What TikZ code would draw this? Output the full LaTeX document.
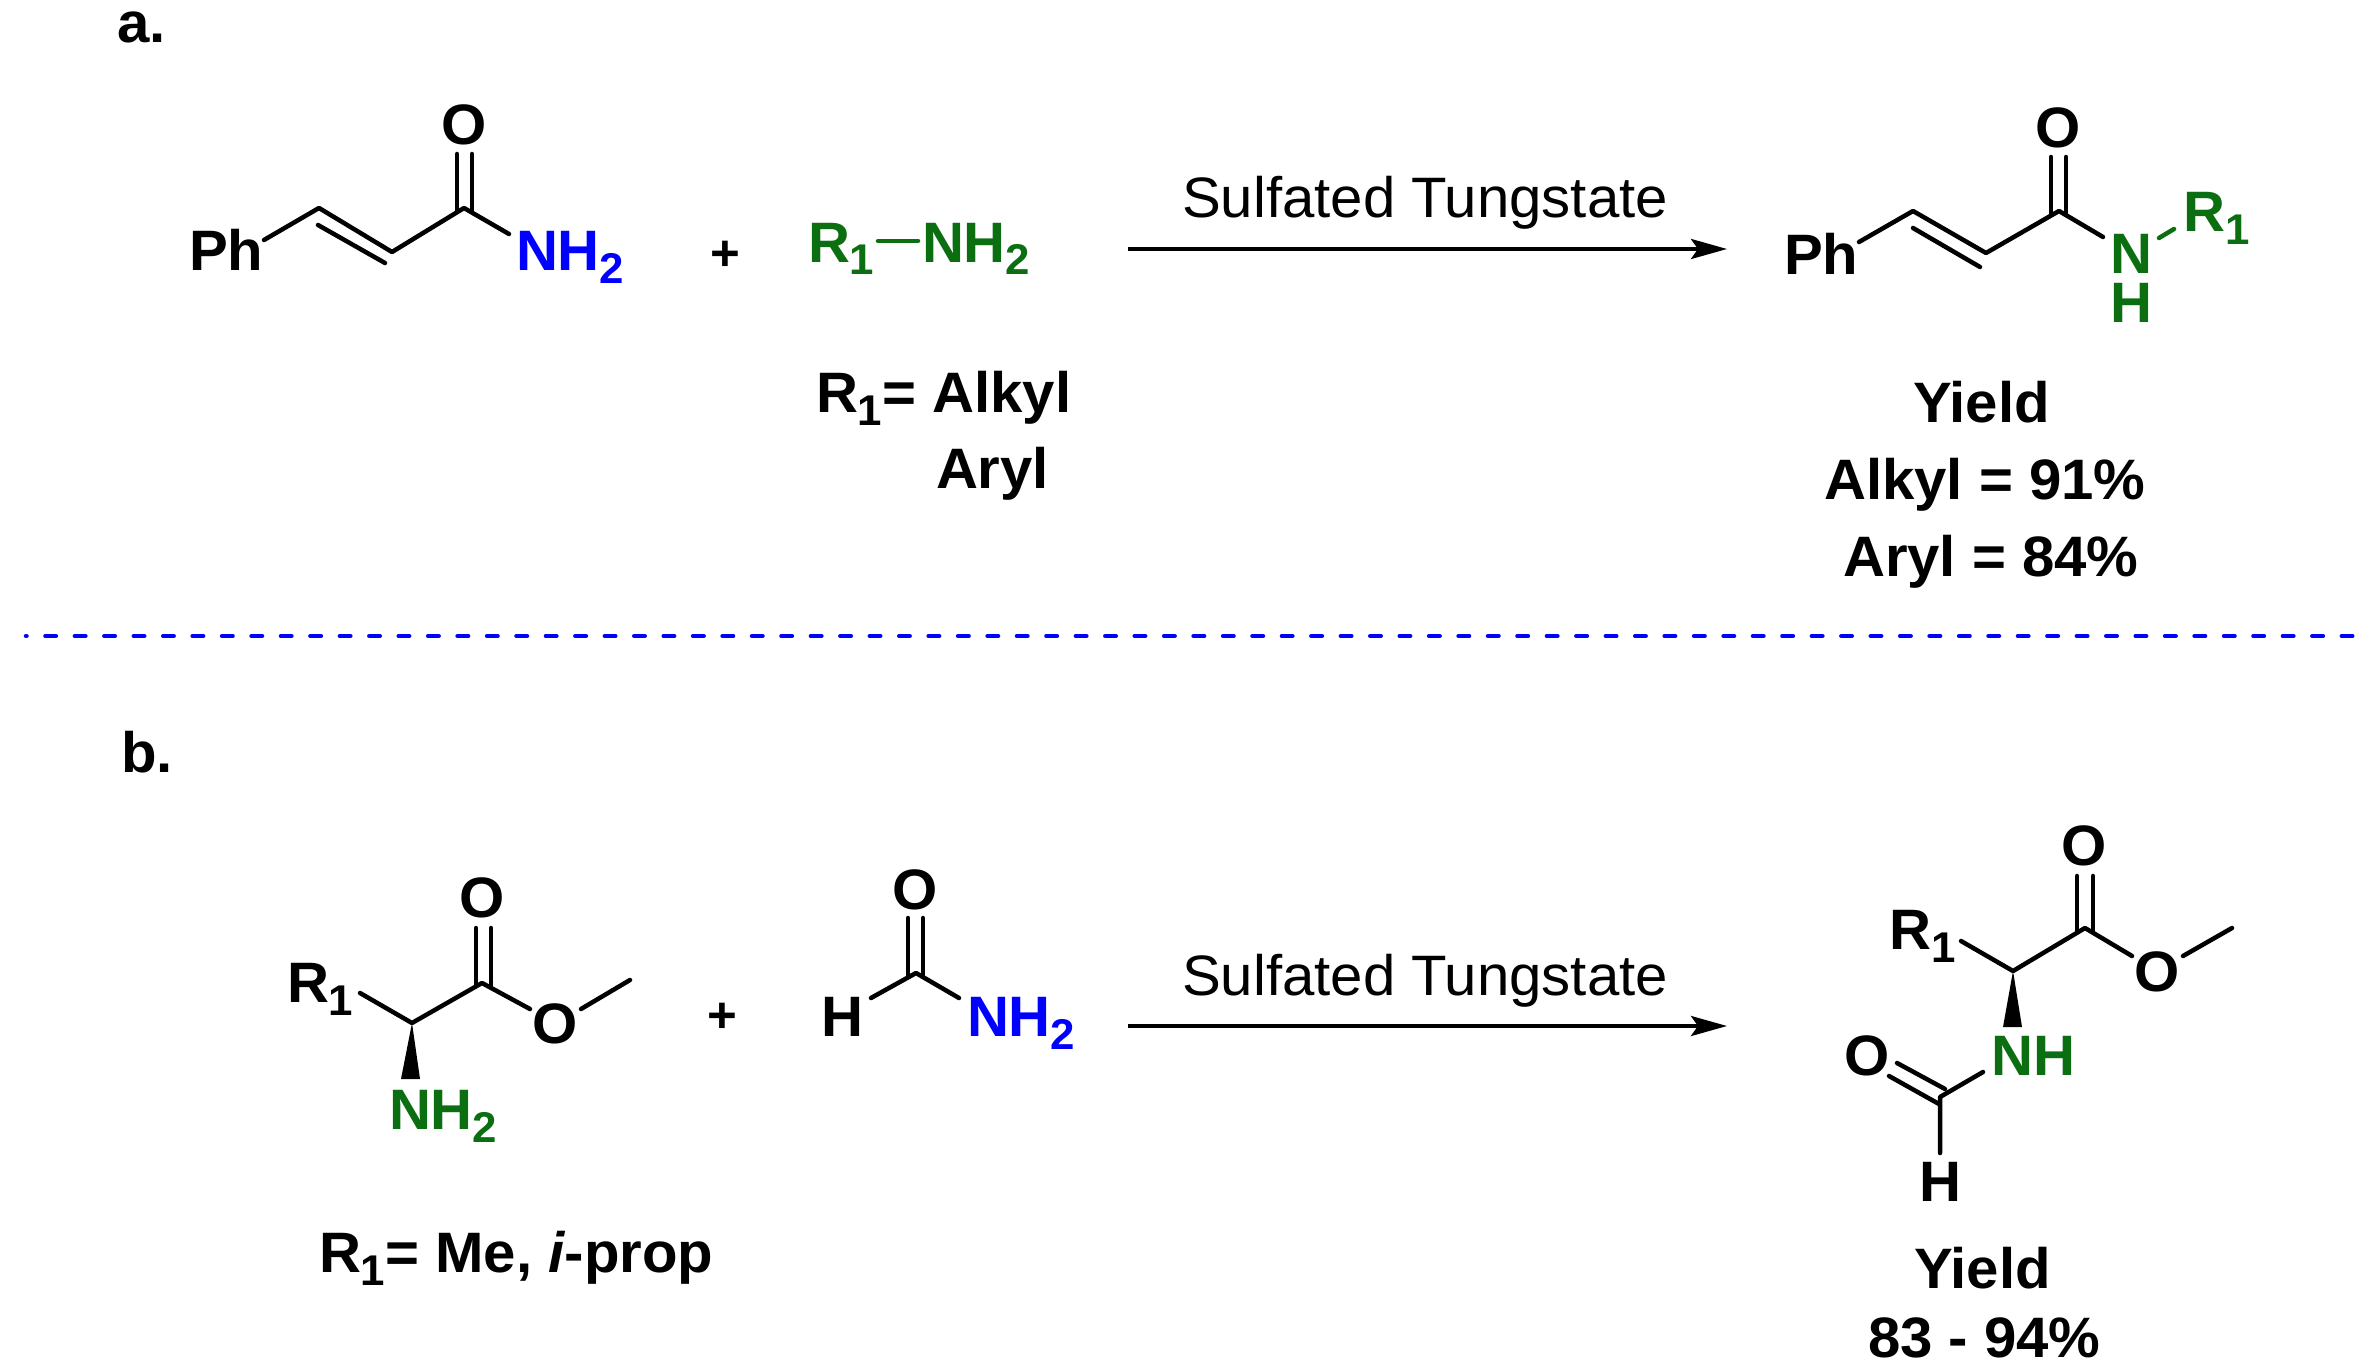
\documentclass[tikz,border=0pt]{standalone}
\usepackage{fontspec}
\setmainfont[FakeStretch=1.02]{Liberation Sans}
\usetikzlibrary{arrows.meta}
\definecolor{chemgreen}{HTML}{0B6F12}
\definecolor{chemblue}{HTML}{0000FF}
\newcommand{\lowidx}[1]{\raisebox{-13pt}{\fontsize{43}{43}\selectfont #1}}
\tikzset{
  lbl/.style={inner sep=0pt,outer sep=0pt,anchor=base west,font=\fontsize{57}{57}\selectfont\bfseries},
  atomc/.style={lbl,anchor=base},
  stacked/.style={lbl,anchor=center,align=center,font=\fontsize{57}{49}\selectfont\bfseries},
  plain/.style={lbl,font=\fontsize{57}{57}\selectfont},
  plus/.style={lbl,anchor=base,font=\fontsize{50}{50}\selectfont\bfseries},
  bond/.style={draw=black,line width=4.5pt,line cap=round,line join=round},
  wedge/.style={fill=black,draw=none},
  rxn/.style={draw=black,line width=4pt,-{Stealth[length=36pt,width=20pt,inset=7pt]}},
  sep/.style={draw=chemblue,line width=4.5pt,line cap=round,dash pattern=on 10.5pt off 18.94pt,dash phase=10pt}
}
\begin{document}
\begin{tikzpicture}[x=1pt,y=-1pt]
\useasboundingbox[fill=white] (0,0) rectangle (2368,1372);
% panel labels
\node[lbl] (la) at (117,43) {a.};
\node[lbl] (lb) at (121,772) {b.};
\coordinate (sepL) at (26,636);
\coordinate (sepR) at (2354,636);
\draw[sep] (sepL) -- (sepR);

% --- a: cinnamamide
\node[lbl] (aPh) at (189,271) {Ph};
\node[atomc] (aO) at (464,145) {O};
\node[lbl,text=chemblue] (aN) at (516,271) {NH\lowidx{2}};
\coordinate (a1) at (264,240);
\coordinate (a2) at (319,208);
\coordinate (a3) at (392,252);
\coordinate (a4) at (464,208);
\coordinate (a5) at (509,234);
\coordinate (a2i) at (318,225);
\coordinate (a3i) at (385,263);
\coordinate (aOl) at (457,154);
\coordinate (aCl) at (457,212);
\coordinate (aOr) at (472,154);
\coordinate (aCr) at (472,212);
\draw[bond] (a1) -- (a2) -- (a3) -- (a4) -- (a5);
\draw[bond] (a2i) -- (a3i);
\draw[bond] (aOl) -- (aCl);
\draw[bond] (aOr) -- (aCr);

\node[plus] (aPlus) at (725,270) {+};

% --- a: amine
\node[lbl,text=chemgreen] (aR) at (808,262) {R\lowidx{1}};
\node[lbl,text=chemgreen] (aAm) at (922,262) {NH\lowidx{2}};
\coordinate (aB1) at (878,241);
\coordinate (aB2) at (918,241);
\draw[bond,draw=chemgreen] (aB1) -- (aB2);
\node[lbl] (aDefA) at (816,412) {R\lowidx{1}= Alkyl};
\node[lbl] (aDefB) at (936,488) {Aryl};

% --- a: arrow
\node[plain] (aCat) at (1182,218) {Sulfated Tungstate};
\coordinate (aArS) at (1128,249);
\coordinate (aArE) at (1727,249);
\draw[rxn] (aArS) -- (aArE);

% --- a: product
\node[lbl] (pPh) at (1784,274) {Ph};
\node[atomc] (pO) at (2058,148) {O};
\node[stacked,text=chemgreen] (pN) at (2131,278) {N\\H};
\node[lbl,text=chemgreen] (pR) at (2183,232) {R\lowidx{1}};
\coordinate (p1) at (1859,242);
\coordinate (p2) at (1913,211);
\coordinate (p3) at (1986,253);
\coordinate (p4) at (2059,211);
\coordinate (p5) at (2103,237);
\coordinate (p2i) at (1913,228);
\coordinate (p3i) at (1980,267);
\coordinate (pOl) at (2051,157);
\coordinate (pCl) at (2051,215);
\coordinate (pOr) at (2066,157);
\coordinate (pCr) at (2066,215);
\coordinate (pN1) at (2159,238);
\coordinate (pN2) at (2174,229);
\draw[bond] (p1) -- (p2) -- (p3) -- (p4) -- (p5);
\draw[bond] (p2i) -- (p3i);
\draw[bond] (pOl) -- (pCl);
\draw[bond] (pOr) -- (pCr);
\draw[bond,draw=chemgreen] (pN1) -- (pN2);
\node[lbl] (pY) at (1913,422) {Yield};
\node[lbl] (pY1) at (1824,499) {Alkyl = 91\%};
\node[lbl] (pY2) at (1843,576) {Aryl = 84\%};

% --- b: amino ester
\node[lbl] (bR) at (287,1002) {R\lowidx{1}};
\node[atomc] (bO1) at (482,917) {O};
\node[atomc] (bO2) at (555,1043) {O};
\node[lbl,text=chemgreen] (bN) at (389,1129) {NH\lowidx{2}};
\coordinate (b1) at (360,993);
\coordinate (b2) at (412,1023);
\coordinate (b3) at (482,983);
\coordinate (b4) at (530,1009);
\coordinate (b5) at (581,1009);
\coordinate (b6) at (630,980);
\coordinate (bOl) at (476,928);
\coordinate (bCl) at (476,986);
\coordinate (bOr) at (491,928);
\coordinate (bCr) at (491,986);
\coordinate (bWl) at (401,1079);
\coordinate (bWr) at (420,1079);
\draw[bond] (b1) -- (b2) -- (b3) -- (b4);
\draw[bond] (b5) -- (b6);
\draw[bond] (bOl) -- (bCl);
\draw[bond] (bOr) -- (bCr);
\fill[wedge] (b2) -- (bWl) -- (bWr) -- cycle;
\node[lbl] (bDef) at (319,1272) {R\lowidx{1}= Me, {\itshape i}-prop};

\node[plus] (bPlus) at (722,1032) {+};

% --- b: formamide
\node[atomc] (fO) at (915,909) {O};
\node[lbl] (fH) at (821,1036) {H};
\node[lbl,text=chemblue] (fN) at (967,1036) {NH\lowidx{2}};
\coordinate (fC) at (916,973);
\coordinate (fHb) at (871,998);
\coordinate (fNb) at (959,998);
\coordinate (fOl) at (908,918);
\coordinate (fCl) at (908,976);
\coordinate (fOr) at (923,918);
\coordinate (fCr) at (923,976);
\draw[bond] (fHb) -- (fC) -- (fNb);
\draw[bond] (fOl) -- (fCl);
\draw[bond] (fOr) -- (fCr);

% --- b: arrow
\node[plain] (bCat) at (1182,995) {Sulfated Tungstate};
\coordinate (bArS) at (1128,1026);
\coordinate (bArE) at (1727,1026);
\draw[rxn] (bArS) -- (bArE);

% --- b: product
\node[lbl] (qR) at (1889,949) {R\lowidx{1}};
\node[atomc] (qO1) at (2084,865) {O};
\node[atomc] (qO2) at (2157,991) {O};
\node[lbl,text=chemgreen] (qN) at (1991,1075) {NH};
\node[atomc] (qO3) at (1867,1075) {O};
\node[atomc] (qH) at (1940,1201) {H};
\coordinate (q1) at (1961,941);
\coordinate (q2) at (2013,971);
\coordinate (q3) at (2085,928);
\coordinate (q4) at (2132,956);
\coordinate (q5) at (2183,956);
\coordinate (q6) at (2232,928);
\coordinate (qOl) at (2077,876);
\coordinate (qCl) at (2077,932);
\coordinate (qOr) at (2093,876);
\coordinate (qCr) at (2093,932);
\coordinate (qWl) at (2003,1027);
\coordinate (qWr) at (2022,1027);
\coordinate (q7) at (1983,1072);
\coordinate (q8) at (1940,1097);
\coordinate (q9) at (1940,1153);
\coordinate (qD1a) at (1939,1104);
\coordinate (qD1b) at (1889,1076);
\coordinate (qD2a) at (1945,1089);
\coordinate (qD2b) at (1897,1063);
\draw[bond] (q1) -- (q2) -- (q3) -- (q4);
\draw[bond] (q5) -- (q6);
\draw[bond] (qOl) -- (qCl);
\draw[bond] (qOr) -- (qCr);
\fill[wedge] (q2) -- (qWl) -- (qWr) -- cycle;
\draw[bond] (q7) -- (q8) -- (q9);
\draw[bond] (qD1a) -- (qD1b);
\draw[bond] (qD2a) -- (qD2b);
\node[lbl] (qY) at (1914,1288) {Yield};
\node[lbl] (qY1) at (1868,1357) {83 - 94\%};
\end{tikzpicture}
\end{document}
